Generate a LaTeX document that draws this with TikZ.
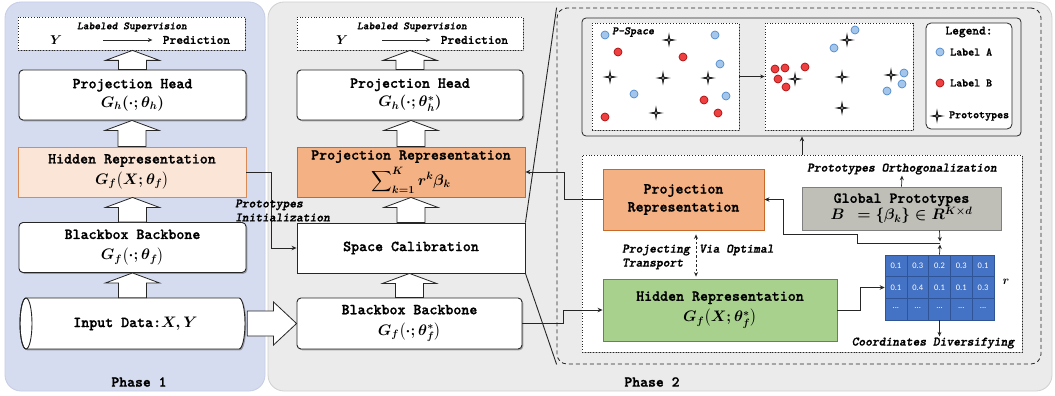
\RequirePackage{fix-cm}
\documentclass[tikz,border=0pt]{standalone}
\usepackage{amsmath}
\usepackage{fontspec}
\setsansfont{Carlito}
\newfontfamily\monobold{lmmonolt10-bold.otf}[ItalicFont=lmmonolt10-boldoblique.otf, FakeBold=1.2]
\usetikzlibrary{shadows,calc,arrows.meta}
\definecolor{pone}{HTML}{D6DCEF}
\definecolor{poneb}{HTML}{C5CDE6}
\definecolor{ptwo}{HTML}{EBEBEB}
\definecolor{ptwob}{HTML}{D0D0D0}
\definecolor{hidf}{HTML}{FBE5D6}
\definecolor{hidb}{HTML}{D98A55}
\definecolor{orf}{HTML}{F4B183}
\definecolor{orb}{HTML}{C8692A}
\definecolor{grf}{HTML}{A9D18E}
\definecolor{grb}{HTML}{5E8C3E}
\definecolor{gpf}{HTML}{BFBFB8}
\definecolor{gpb}{HTML}{7F7F7F}
\definecolor{matf}{HTML}{4472C4}
\definecolor{matb}{HTML}{2F5597}
\definecolor{dAf}{HTML}{A4C6EA}
\definecolor{dAb}{HTML}{4F8ACB}
\definecolor{dBf}{HTML}{EE4040}
\definecolor{dBb}{HTML}{A80F0F}
\definecolor{ink}{HTML}{262626}
\newcommand\bigmono{\fontsize{15.2}{18}\selectfont\monobold}
\newcommand\midmono{\fontsize{12.8}{15}\selectfont\monobold}
\newcommand\lblmono{\fontsize{11.4}{13}\selectfont\monobold}
\newcommand\itmono{\fontsize{12.9}{14}\selectfont\monobold\itshape}
\newcommand\smitmono{\fontsize{11}{13}\selectfont\monobold\itshape}
\newcommand\bmath[1]{{\boldmath$#1$}}
\newcommand\hollowup[2]{\draw[hollow] let \p1=(#1.north), \p2=(#2.south) in
  (\x1-14pt,\y1) -- (\x1-14pt,\y2-10pt) -- (\x1-27pt,\y2-10pt) -- (\x1,\y2)
  -- (\x1+27pt,\y2-10pt) -- (\x1+14pt,\y2-10pt) -- (\x1+14pt,\y1) -- cycle;}
\newcommand\ptA[2]{\draw[dotA] (#1,#2) circle[radius=4pt];}
\newcommand\ptB[2]{\draw[dotB] (#1,#2) circle[radius=4pt];}
\tikzset{
  shad/.style={drop shadow={shadow xshift=1.3pt, shadow yshift=-1.3pt, opacity=0.3, fill=black}},
  bx/.style={draw=ink, line width=0.9pt, fill=white, inner sep=0pt, align=center, font=\bigmono, shad},
  rbx/.style={bx, rounded corners=4pt},
  dotbx/.style={draw=ink, line width=0.8pt, dotted, fill=white, inner sep=0pt, shad},
  hollow/.style={draw=ink, fill=white, line width=0.8pt, line join=miter},
  conn/.style={draw=ink, line width=0.9pt, -{Stealth[length=5pt,width=4.5pt]}},
  thinarr/.style={draw=ink, line width=0.7pt, -{Stealth[length=4.5pt,width=4pt]}},
  dotA/.style={draw=dAb, fill=dAf, line width=0.7pt},
  dotB/.style={draw=dBb, fill=dBf, line width=0.7pt},
  cell/.style={draw=matb, fill=matf, line width=0.6pt, minimum width=21.8pt, minimum height=21.67pt, inner sep=0pt, text=white, font=\fontsize{8.5}{10}\selectfont\sffamily},
  protostar/.pic={
    \fill[black] (0:7.5pt) -- (45:1.6pt) -- (90:7.5pt) -- (135:1.6pt) -- (180:7.5pt) -- (225:1.6pt) -- (270:7.5pt) -- (315:1.6pt) -- cycle;
    \fill[white] (0:3pt) -- (45:0.4pt) -- (90:3pt) -- (135:0.4pt) -- (180:3pt) -- (225:0.4pt) -- (270:3pt) -- (315:0.4pt) -- cycle;}
}
\begin{document}
\begin{tikzpicture}[x=1pt,y=-1pt]
\useasboundingbox (0,0) rectangle (1055,396);
% panels
\draw[draw=poneb, fill=pone, rounded corners=16pt, line width=0.8pt] (5,2) rectangle (265,391);
\draw[draw=ptwob, fill=ptwo, rounded corners=16pt, line width=0.8pt] (268,2) rectangle (1052,391);
\node[font=\fontsize{15}{17}\selectfont\monobold] (ph1lab) at (139,382) {Phase 1};
\node[font=\fontsize{15}{17}\selectfont\monobold] (ph2lab) at (652,382) {Phase 2};

% ---------- Phase 1 ----------
\node[dotbx, minimum width=227pt, minimum height=33pt] (ls1) at (131.5,33.5) {};
\node[font=\smitmono] (lst1) at (132,27) {Labeled Supervision};
\node[font=\midmono] (y1) at (56,40) {\bmath{Y}};
\node[font=\midmono] (pred1) at (196.5,40) {Prediction};
\coordinate (ys1) at (103,40);
\draw[thinarr] (ys1) -- ([xshift=-7pt]pred1.west);
\node[rbx, minimum width=227pt, minimum height=50pt] (ph1) at (132.5,95) {Projection Head\\[1pt]\bmath{G_h(\cdot;\theta_h)}};
\node[bx, draw=hidb, fill=hidf, minimum width=228pt, minimum height=50pt] (hid1) at (132,172) {Hidden Representation\\[3pt]\bmath{G_f\bigl(X;\theta_f\bigr)}};
\node[rbx, minimum width=227pt, minimum height=50pt] (bb1) at (132.5,247.5) {Blackbox Backbone\\[3pt]\bmath{G_f\bigl(\cdot;\theta_f\bigr)}};
% cylinder
\draw[draw=ink, fill=white, line width=0.9pt, shad] (26,298) -- (239,298) arc[start angle=90, end angle=-90, x radius=6pt, y radius=25.5pt] -- (26,349) arc[start angle=270, end angle=90, x radius=6pt, y radius=25.5pt] -- cycle;
\draw[draw=ink, line width=0.9pt] (26,323.5) ellipse[x radius=6pt, y radius=25.5pt];
\node[font=\bigmono, minimum width=225pt, minimum height=51pt, inner sep=0pt] (in1) at (132.5,323.5) {\hspace*{6pt}Input Data:\bmath{X,Y}};

% ---------- Phase 2 ----------
\node[dotbx, minimum width=226pt, minimum height=33pt] (ls2) at (410,33.5) {};
\node[font=\smitmono] (lst2) at (412,27) {Labeled Supervision};
\node[font=\midmono] (y2) at (342,40) {\bmath{Y}};
\node[font=\midmono] (pred2) at (474.5,40) {Prediction};
\coordinate (ys2) at (382,40);
\draw[thinarr] (ys2) -- ([xshift=-7pt]pred2.west);
\node[rbx, minimum width=226pt, minimum height=50pt] (ph2) at (410,95) {Projection Head\\[1pt]\bmath{G_h(\cdot;\theta_h^{*})}};
\node[bx, draw=orb, fill=orf, minimum width=228pt, minimum height=50pt] (pr2) at (411,172) {Projection Representation\\[3pt]\bmath{\displaystyle\sum\nolimits_{k=1}^{K} r^k\beta_k}};
\node[bx, minimum width=228pt, minimum height=50pt] (sc) at (411,248) {Space Calibration};
\node[rbx, minimum width=225pt, minimum height=51pt] (bb2) at (409.5,323.5) {Blackbox Backbone\\[3pt]\bmath{G_f\bigl(\cdot;\theta_f^{*}\bigr)}};

% hollow arrows
\hollowup{ph1}{ls1}
\hollowup{hid1}{ph1}
\hollowup{bb1}{hid1}
\hollowup{in1}{bb1}
\hollowup{ph2}{ls2}
\hollowup{pr2}{ph2}
\hollowup{sc}{pr2}
\hollowup{bb2}{sc}
\draw[hollow] let \p1=(in1.east), \p2=(bb2.west) in
  (\x1+2pt,\y1+12.5pt) -- (\x2-23pt,\y1+12.5pt) -- (\x2-23pt,\y1+21.5pt) -- (\x2,\y1)
  -- (\x2-23pt,\y1-21.5pt) -- (\x2-23pt,\y1-12.5pt) -- (\x1+2pt,\y1-12.5pt) -- cycle;

% prototypes initialization
\draw[conn] (hid1.east) -- (271,172) |- (sc.west);
\node[font=\itmono, align=left, anchor=west, inner sep=0pt] (pinit) at (235,210.5) {Prototypes\\Initialization};

% ---------- detail region ----------
\node[draw=ink, dashed, dash pattern=on 4pt off 3pt, line width=0.8pt, rounded corners=10pt, minimum width=484pt, minimum height=356pt, inner sep=0pt] (detail) at (799,186) {};
\draw[draw=ink, line width=0.9pt] (sc.north east) -- (detail.north west);
\draw[draw=ink, line width=0.9pt] (sc.south east) -- (detail.south west);

% top panel
\node[draw=ink, fill=ptwo, line width=0.8pt, rounded corners=4pt, minimum width=439pt, minimum height=118pt, inner sep=0pt] (toppan) at (801.5,77) {};
\node[dotbx, minimum width=147pt, minimum height=107pt] (sc1) at (665.5,76.5) {};
\node[dotbx, minimum width=148pt, minimum height=107pt] (sc2) at (839,76.5) {};
\node[draw=ink, fill=white, line width=0.8pt, rounded corners=5pt, minimum width=86pt, minimum height=106pt, inner sep=0pt] (leg) at (969,76) {};
\draw[thinarr] (sc1.east) -- (sc2.west);
\node[font=\lblmono\itshape, anchor=west, inner sep=0pt] (pspace) at (612,32) {P-Space};
% scatter 1
\ptA{605}{35} \ptA{715}{35} \ptA{720}{64} \ptA{634}{94} \ptA{726}{96}
\ptB{618}{52} \ptB{683}{57} \ptB{704}{100} \ptB{605}{117} \ptB{718}{113}
\pic at (669,40) {protostar};
\pic at (610,77) {protostar};
\pic at (663,78) {protostar};
\pic at (708,78) {protostar};
\pic at (656,113) {protostar};
% scatter 2
\ptA{855}{30} \ptA{834}{48} \ptA{904}{73} \ptA{902}{84} \ptA{887}{91}
\ptB{775}{69} \ptB{785}{68} \ptB{805}{67} \ptB{778}{79} \ptB{786}{87}
\pic at (847,40) {protostar};
\pic at (795,79) {protostar};
\pic at (842,77) {protostar};
\pic at (891,75) {protostar};
\pic at (842,108) {protostar};
% legend
\node[font=\midmono] (legt) at (969,32) {Legend:};
\ptA{940}{52}
\node[font=\lblmono, anchor=west, inner sep=0pt] (la) at (950,52) {Label A};
\ptB{940}{83}
\node[font=\lblmono, anchor=west, inner sep=0pt] (lb) at (950,83) {Label B};
\pic at (937,116) {protostar};
\node[font=\lblmono, anchor=west, inner sep=0pt] (lp) at (949,116) {Prototypes};

% lower panel
\node[dotbx, minimum width=440pt, minimum height=197pt] (lowpan) at (802,253.5) {};
\draw[conn] (lowpan.north) -- (lowpan.north |- toppan.south);

\node[bx, draw=orb, fill=orf, minimum width=161pt, minimum height=61pt] (prin) at (683.5,199.5) {Projection\\Representation};
\node[bx, draw=gpb, fill=gpf, minimum width=199pt, minimum height=43pt] (gp) at (901.5,208.5) {Global Prototypes\\[-1pt]\bmath{B\ =\{\beta_k\}\in R^{K\times d}}};
\node[bx, draw=grb, fill=grf, minimum width=234pt, minimum height=62pt] (hr) at (720,310) {Hidden Representation\\[3pt]\bmath{G_f\bigl(X;\theta_f^{*}\bigr)}};
\node[font=\itmono, inner sep=1pt] (ortho) at (902,169) {Prototypes Orthogonalization};
\draw[thinarr] (gp.north) -- (ortho.south);

% matrix r
\foreach \v [count=\i from 0] in {0.1,0.3,0.2,0.3,0.1,0.1,0.4,0.1,0.1,0.3} {
  \pgfmathtruncatemacro\cc{mod(\i,5)}
  \pgfmathtruncatemacro\rr{div(\i,5)}
  \node[cell] (m\i) at ({885+21.8*(\cc+0.5)},{255+21.67*(\rr+0.5)}) {\v};
}
\foreach \cc in {0,...,4} {
  \node[cell] (e\cc) at ({885+21.8*(\cc+0.5)},{255+21.67*2.5}) {\raisebox{2pt}{...}};
}
\node[draw=matb, line width=0.6pt, minimum width=109pt, minimum height=65pt, inner sep=0pt] (rmat) at (939.5,287.5) {};
\node[font=\fontsize{12}{14}\selectfont, inner sep=0pt] (rlab) at (1006,282) {\bmath{r}};
\node[font=\itmono, inner sep=1pt] (cdiv) at (933,343) {Coordinates Diversifying};
\draw[thinarr] (rmat.south) -- (rmat.south |- cdiv.north);

\coordinate (J) at (940,243);
\draw[thinarr] (rmat.north |- gp.south) -- ([yshift=1.5pt]J);
\draw[thinarr] (rmat.north) -- ([yshift=-1.5pt]J);
\draw[conn] (J) -- (857,243) -- (857,234) -- (783,234) |- (prin.east);

\draw[conn] (hr.east) -- (860,310) |- (rmat.west);
\draw[draw=ink, line width=0.8pt, dashed, dash pattern=on 2.5pt off 2pt, {Stealth[length=4.5pt,width=4pt]}-{Stealth[length=4.5pt,width=4pt]}, shorten <=4pt, shorten >=2pt] ([xshift=12.5pt]prin.south) -- ([xshift=12.5pt]prin.south |- hr.north);
\node[font=\itmono, align=left, anchor=west, inner sep=0pt] (proj) at (622,257) {Projecting\\Transport};
\node[font=\itmono, anchor=west, inner sep=0pt] (via) at (699,250) {Via Optimal};

% links between phase 2 column and detail
\draw[conn] (prin.west) -- (564,199.5) |- (pr2.east);
\draw[conn] (bb2.east) -- (563,323.5) |- (hr.west);
\end{tikzpicture}
\end{document}
